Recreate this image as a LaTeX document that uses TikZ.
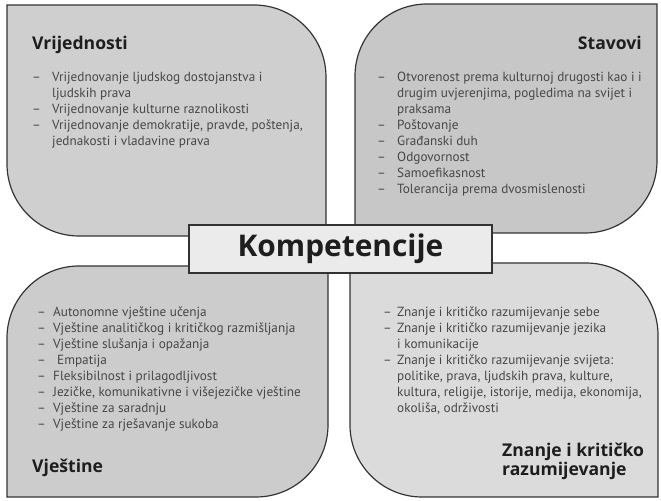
\documentclass[tikz,border=0pt]{standalone}
\usepackage{fontspec}
\setmainfont{PT Sans}
\newfontfamily\naslov{Open Sans}
\usepackage{tikz}
\usetikzlibrary{positioning}

\definecolor{rub}{HTML}{333333}
\definecolor{listink}{HTML}{474747}
\definecolor{headink}{HTML}{1E1E1E}
\definecolor{vrijfill}{gray}{0.81}
\definecolor{stavfill}{gray}{0.78}
\definecolor{vjesfill}{gray}{0.80}
\definecolor{znanfill}{gray}{0.86}
\definecolor{kompfill}{gray}{0.92}

\newcommand{\crt}[1][0.6cm]{\makebox[#1][l]{–}}
\newcommand{\nast}[1][0.6cm]{\hspace*{#1}}

\begin{document}
\begin{tikzpicture}[x=0.03cm, y=0.03cm,
    leaf/.style={draw=rub, line width=1pt},
    heading/.style={inner sep=0, font=\naslov\fontsize{15}{13.6}\selectfont\bfseries, text=headink},
    items/.style={inner sep=0, align=left, font=\fontsize{11.3}{13.66}\selectfont, text=listink},
    komp/.style={draw=rub, fill=kompfill, line width=1pt, minimum width=9.09cm, minimum height=1.44cm, inner sep=0, font=\naslov\fontsize{25.5}{28}\selectfont\bfseries, text=headink}]

    \useasboundingbox (0,0) rectangle (661,501);

    % four leaves
    \filldraw[leaf, fill=vrijfill] (7,496) -- (254,496) arc[start angle=90, end angle=0, radius=72] -- (326,265) -- (79,265) arc[start angle=270, end angle=180, radius=72] -- cycle;
    \filldraw[leaf, fill=stavfill] (355,268) -- (355,425) arc[start angle=180, end angle=90, radius=72] -- (657,497) -- (657,340) arc[start angle=0, end angle=-90, radius=72] -- cycle;
    \filldraw[leaf, fill=vjesfill] (7,4) -- (7,163) arc[start angle=180, end angle=90, radius=72] -- (328,235) -- (328,76) arc[start angle=0, end angle=-90, radius=72] -- cycle;
    \filldraw[leaf, fill=znanfill] (350,238) -- (586,238) arc[start angle=90, end angle=0, radius=72] -- (658,4) -- (422,4) arc[start angle=270, end angle=180, radius=72] -- cycle;

    \node[heading, anchor=base west] (vrijednosti) at (32,451) {Vrijednosti};
    \node[items, anchor=north west] (vrijlist) at (32,429) {\crt Vrijednovanje ljudskog dostojanstva i\\ \nast ljudskih prava\\ \crt Vrijednovanje kulturne raznolikosti\\ \crt Vrijednovanje demokratije, pravde, poštenja,\\ \nast jednakosti i vladavine prava};

    \node[heading, anchor=base east] (stavovi) at (642,451) {Stavovi};
    \node[items, anchor=north west] (stavlist) at (377,429) {\crt Otvorenost prema kulturnoj drugosti kao i i\\ \nast drugim uvjerenjima, pogledima na svijet i\\ \nast praksama\\ \crt Poštovanje\\ \crt Građanski duh\\ \crt Odgovornost\\ \crt Samoefikasnost\\ \crt Tolerancija prema dvosmislenosti};

    \node[items, anchor=north west] (vjeslist) at (37,194) {\crt[0.48cm]Autonomne vještine učenja\\ \crt[0.48cm]Vještine analitičkog i kritičkog razmišljanja\\ \crt[0.48cm]Vještine slušanja i opažanja\\ \crt[0.48cm]\hspace{0.12cm}Empatija\\ \crt[0.48cm]Fleksibilnost i prilagodljivost\\ \crt[0.48cm]Jezičke, komunikativne i višejezičke vještine\\ \crt[0.48cm]Vještine za saradnju\\ \crt[0.48cm]Vještine za rješavanje sukoba};
    \node[heading, anchor=base west] (vjestine) at (32,28) {Vještine};

    \node[items, anchor=north west] (znanlist) at (383,194) {\crt[0.42cm]Znanje i kritičko razumijevanje sebe\\ \crt[0.42cm]Znanje i kritičko razumijevanje jezika\\ \nast[0.42cm]i komunikacije\\ \crt[0.42cm]Znanje i kritičko razumijevanje svijeta:\\ \nast[0.42cm]politike, prava, ljudskih prava, kulture,\\ \nast[0.42cm]kultura, religije, istorije, medija, ekonomija,\\ \nast[0.42cm]okoliša, održivosti};
    \node[heading, anchor=north west, align=left] (znanje) at (502,58) {Znanje i kritičko\\razumijevanje};

    \node[komp] (kompetencije) at (340.5,252) {Kompetencije};

\end{tikzpicture}
\end{document}
